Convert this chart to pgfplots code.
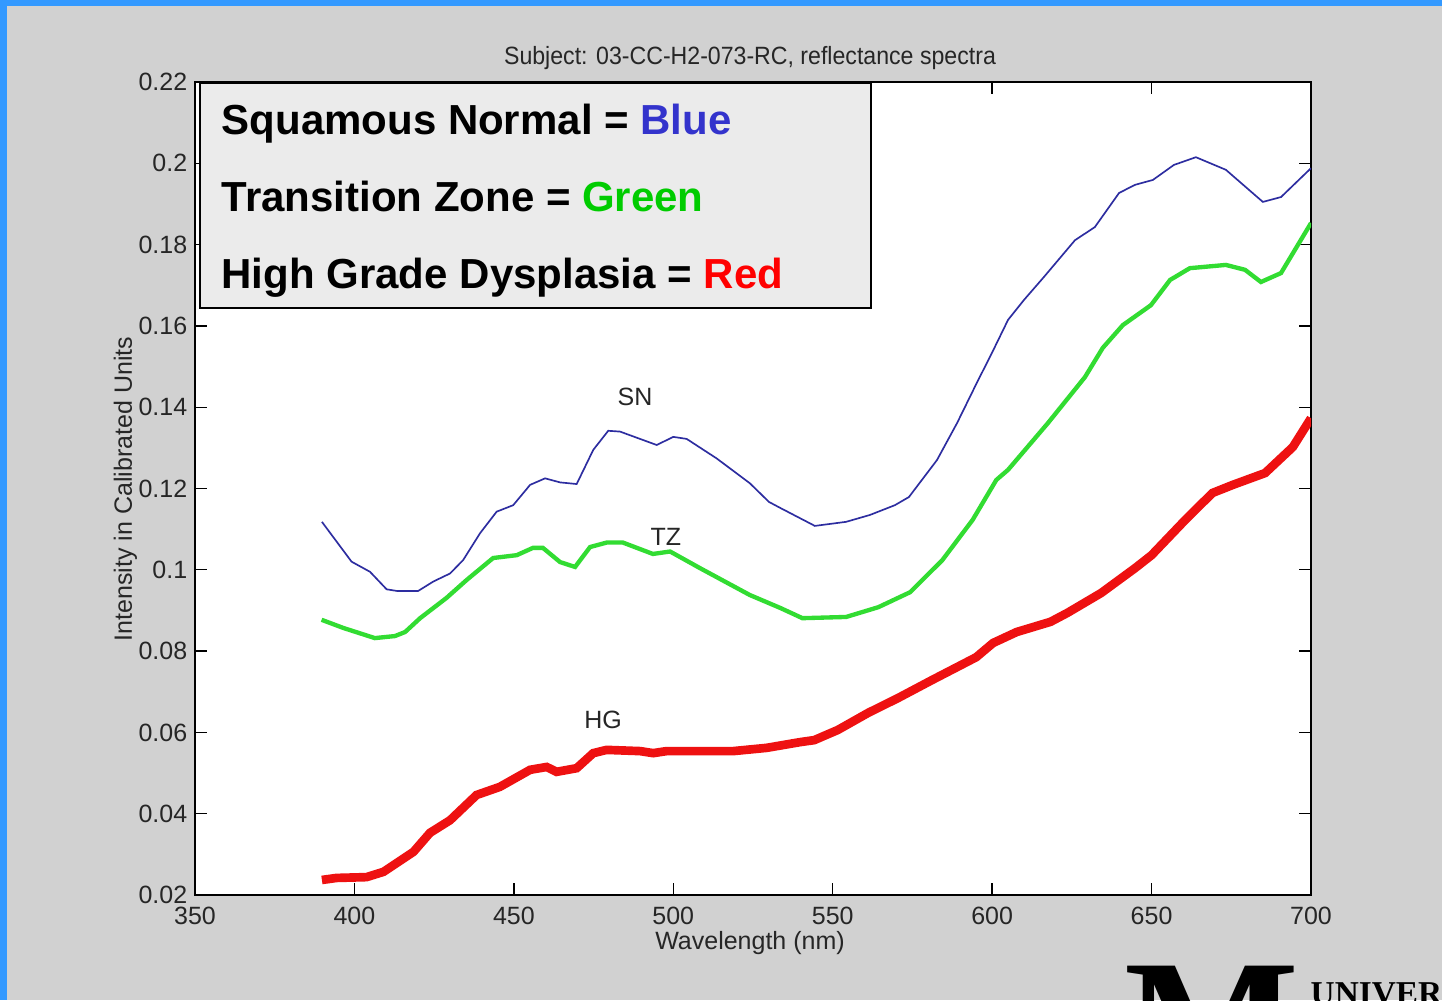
\documentclass[border=0pt]{standalone}
\usepackage{fontspec}
\setmainfont{Liberation Sans}
\newfontfamily\logofont{Liberation Serif}
\usepackage{pgfplots}
\pgfplotsset{compat=1.18}
\definecolor{bggray}{RGB}{209,209,209}
\definecolor{frameblue}{RGB}{51,153,255}
\definecolor{legbg}{RGB}{235,235,235}
\definecolor{snblue}{RGB}{45,45,160}
\definecolor{tzgreen}{RGB}{50,220,50}
\definecolor{hgred}{RGB}{238,17,17}
\definecolor{txtblue}{RGB}{51,51,204}
\definecolor{txtgreen}{RGB}{0,204,0}
\definecolor{txtred}{RGB}{255,0,0}
\newcommand{\tickfont}{\fontsize{7.5}{9}\selectfont}
\begin{document}
\begin{tikzpicture}
\fill[bggray] (0,0) rectangle (432.6pt,300pt);
\fill[frameblue] (0,298.2pt) rectangle (432.6pt,300pt);
\fill[frameblue] (0,0) rectangle (2.1pt,300pt);
\begin{axis}[
  at={(58.5pt,31.5pt)}, anchor=south west,
  scale only axis, width=334.8pt, height=243.9pt,
  xmin=350, xmax=700, ymin=0.02, ymax=0.22,
  xtick={350,400,450,500,550,600,650,700},
  ytick={0.02,0.04,0.06,0.08,0.1,0.12,0.14,0.16,0.18,0.2,0.22},
  yticklabels={0.02,0.04,0.06,0.08,0.1,0.12,0.14,0.16,0.18,0.2,0.22},
  xticklabels={350,400,450,500,550,600,650,700},
  tick align=inside, major tick length=3.6pt,
  tick style={black, line width=0.4pt},
  axis line style={black, line width=0.4pt},
  ticklabel style={font=\tickfont, text=black!85},
  yticklabel style={xshift=1.2pt},
  axis background/.style={fill=white},
  clip=true,
]
\addplot[snblue, line width=0.5pt] coordinates {
(389.8,0.1118)(399.1,0.1020)(404.9,0.0995)(410.1,0.0952)(413.3,0.0948)(420.0,0.0948)(424.7,0.0971)(430.0,0.0991)(434.1,0.1024)(439.4,0.1090)(444.6,0.1143)(449.8,0.1159)(455.1,0.1209)(459.8,0.1225)(464.5,0.1215)(469.7,0.1211)(474.9,0.1295)(479.6,0.1342)(483.3,0.1340)(494.8,0.1307)(500.0,0.1327)(504.2,0.1322)(513.6,0.1274)(524.0,0.1213)(530.0,0.1167)(533.6,0.1152)(544.4,0.1108)(554.2,0.1118)(561.7,0.1135)(569.5,0.1159)(573.9,0.1179)(582.7,0.1270)(589.0,0.1361)(595.2,0.1460)(599.9,0.1533)(605.0,0.1615)(610.0,0.1664)(616.2,0.1720)(626.0,0.1811)(632.2,0.1843)(639.8,0.1927)(644.8,0.1947)(650.4,0.1959)(657.0,0.1996)(663.9,0.2015)(673.3,0.1984)(684.9,0.1905)(690.6,0.1917)(700,0.1988)
};
\addplot[tzgreen, line width=1.3pt] coordinates {
(389.7,0.0877)(396.5,0.0857)(406.4,0.0832)(412.7,0.0837)(415.9,0.0847)(420.6,0.0881)(428.9,0.0931)(435.2,0.0975)(443.5,0.1029)(450.9,0.1036)(456.0,0.1054)(459.1,0.1054)(464.5,0.1019)(469.2,0.1007)(473.9,0.1056)(479.1,0.1067)(484.2,0.1067)(493.6,0.1039)(499.0,0.1045)(508.4,0.1004)(524.0,0.0938)(533.6,0.0906)(540.5,0.0881)(554.2,0.0884)(564.3,0.0908)(574.3,0.0945)(584.4,0.1024)(593.9,0.1123)(601.3,0.1221)(605.0,0.1246)(617.5,0.1361)(629.1,0.1474)(634.7,0.1546)(641.0,0.1602)(649.8,0.1651)(655.8,0.1713)(662.0,0.1742)(673.3,0.1750)(679.3,0.1738)(684.3,0.1708)(690.6,0.1730)(700,0.1853)
};
\addplot[hgred, line width=2.6pt] coordinates {
(389.8,0.0237)(394.4,0.0242)(403.8,0.0244)(409.1,0.0257)(418.5,0.0306)(423.7,0.0353)(430.0,0.0384)(438.3,0.0446)(445.6,0.0466)(455.1,0.0508)(460.3,0.0515)(463.4,0.0503)(469.7,0.0512)(474.9,0.0549)(479.1,0.0557)(489.6,0.0554)(493.7,0.0549)(497.9,0.0554)(518.8,0.0554)(529.3,0.0562)(539.7,0.0576)(544.2,0.0581)(551.6,0.0606)(561.1,0.0648)(570.6,0.0685)(581.2,0.0729)(595.0,0.0785)(600.3,0.0820)(607.7,0.0847)(618.3,0.0872)(623.6,0.0894)(634.2,0.0943)(644.8,0.1004)(650.0,0.1036)(660.6,0.1123)(669.1,0.1189)(675.5,0.1209)(685.6,0.1238)(694.3,0.1302)(700,0.1373)
};
\node[font=\tickfont, text=black!85] at (axis cs:488,0.1425) {SN};
\node[font=\tickfont, text=black!85] at (axis cs:497.7,0.1081) {TZ};
\node[font=\tickfont, text=black!85] at (axis cs:478,0.0631) {HG};
\end{axis}
% title and axis labels
\node[anchor=base, font=\tickfont, text=black!85] at (225pt,280.7pt) {\scalebox{0.925}[1]{Subject: 03-CC-H2-073-RC, reflectance spectra}};
\node[anchor=base, font=\tickfont, text=black!85] at (225pt,15.3pt) {Wavelength (nm)};
\node[rotate=90, font=\tickfont, text=black!85] at (37.6pt,153.3pt) {Intensity in Calibrated Units};
% legend box
\draw[fill=legbg, line width=0.5pt] (60pt,207.6pt) rectangle (261.3pt,275.1pt);
\begin{scope}[every node/.style={anchor=base west, inner sep=0pt, font=\fontsize{12.6}{15}\selectfont\bfseries}]
\node at (66.3pt,259.5pt) {Squamous Normal = \textcolor{txtblue}{Blue}};
\node at (66.3pt,236.4pt) {Transition Zone = \textcolor{txtgreen}{Green}};
\node at (66.3pt,213.3pt) {High Grade Dysplasia = \textcolor{txtred}{Red}};
\end{scope}
% logo fragment (cut off at the page edge, as in the reference)
\node[anchor=base, inner sep=0pt, font=\logofont\bfseries\fontsize{55.6}{60}\selectfont] at (363.6pt,-26.1pt) {M};
\node[anchor=base west, inner sep=0pt, font=\logofont\bfseries\fontsize{10}{12}\selectfont] at (393pt,-1.2pt) {UNIVER};
\pgfresetboundingbox
\path[use as bounding box] (0,0) rectangle (432.6pt,300pt);
\end{tikzpicture}
\end{document}
